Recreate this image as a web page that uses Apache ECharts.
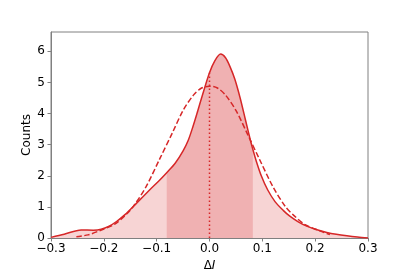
<!DOCTYPE html>
<html><head><meta charset="utf-8">
<script src="https://cdn.jsdelivr.net/npm/echarts@6/dist/echarts.min.js"></script>
<style>html,body{margin:0;padding:0;background:#fff}#c{width:409px;height:273px}</style>
</head><body><div id="c"></div>
<script>
// KDE (solid) curve: x values and density
var kdeX = [-0.3,-0.275,-0.243,-0.22,-0.205,-0.19,-0.176,-0.16,-0.138,-0.113,-0.095,-0.081,-0.065,-0.05,-0.04,-0.031,-0.022,-0.012,0.0,0.01,0.021,0.03,0.039,0.048,0.058,0.068,0.078,0.082,0.088,0.098,0.11,0.124,0.14,0.152,0.168,0.184,0.2,0.222,0.24,0.26,0.28,0.3];
var kdeY = [0.02,0.12,0.26,0.25,0.28,0.38,0.53,0.75,1.12,1.55,1.85,2.1,2.4,2.8,3.15,3.6,4.1,4.67,5.31,5.69,5.91,5.8,5.5,5.1,4.5,3.8,3.1,2.85,2.5,2.0,1.55,1.17,0.88,0.7,0.52,0.38,0.28,0.18,0.12,0.07,0.03,0.0];
// Normal fit (dashed)
var normX = [-0.252,-0.23,-0.207,-0.18,-0.16,-0.144,-0.12,-0.094,-0.07,-0.05,-0.03,-0.015,0.0,0.015,0.03,0.05,0.073,0.094,0.12,0.144,0.16,0.18,0.207,0.228];
var normY = [0.04,0.1,0.24,0.44,0.72,1.02,1.65,2.55,3.39,4.1,4.6,4.82,4.88,4.82,4.6,4.1,3.3,2.55,1.65,1.0,0.72,0.44,0.24,0.11];
// central shaded band limits
var bandLo = -0.081, bandHi = 0.082;
var medianX = 0.0, medianY = 5.31;
var yTicks = [0,1,2,3,4,5,6];

var kde = kdeX.map(function(x,i){return [x,kdeY[i]];});
var norm = normX.map(function(x,i){return [x,normY[i]];});
var band = [];
kdeX.forEach(function(x,i){ if(x>=bandLo && x<=bandHi) band.push([x,kdeY[i]]); });

var red = '#d62728';
var font = 'DejaVu Sans';
var chart = echarts.init(document.getElementById('c'), null, {renderer:'canvas'});
chart.setOption({
  animation:false,
  grid:{left:51,right:41,top:32,bottom:35,show:true,borderColor:'#808080',borderWidth:1,containLabel:false,outerBoundsMode:'none'},
  xAxis:{type:'value',min:-0.3,max:0.3,interval:0.1,
    name:'{a|Δ}{b|I}',nameLocation:'middle',nameGap:22,nameMoveOverlap:false,
    nameTextStyle:{rich:{a:{fontFamily:font,fontSize:12,color:'#000'},b:{fontFamily:font,fontSize:12,fontStyle:'italic',color:'#000'}}},
    axisLine:{show:true,onZero:false,lineStyle:{color:'#808080',width:1}},
    axisTick:{show:true,length:3.5,lineStyle:{color:'#808080'}},
    splitLine:{show:false},
    axisLabel:{fontFamily:font,fontSize:12,color:'#000',margin:5,
      formatter:function(v){var s=(Math.round(v*10)/10).toFixed(1); if(s==='-0.0')s='0.0'; return s.replace('-','\u2212');}}
  },
  yAxis:{type:'value',min:0,max:6.62,interval:1,
    name:'Counts',nameLocation:'middle',nameGap:18,nameRotate:90,nameMoveOverlap:false,
    nameTextStyle:{fontFamily:font,fontSize:12,color:'#000'},
    axisLine:{show:true,onZero:false,lineStyle:{color:'#808080',width:1}},
    axisTick:{show:true,length:3.5,lineStyle:{color:'#808080'}},
    splitLine:{show:false},
    axisLabel:{fontFamily:font,fontSize:12,color:'#000',margin:6,showMaxLabel:false,
      formatter:function(v){return yTicks.indexOf(v)>=0?String(v):'';}}
  },
  series:[
    {type:'line',data:kde,smooth:0.3,symbol:'none',lineStyle:{width:0},areaStyle:{color:'#f7d4d4',opacity:1},z:1},
    {type:'line',data:band,smooth:0.3,symbol:'none',lineStyle:{width:0},areaStyle:{color:'#f0b1b2',opacity:1},z:2},
    {type:'line',data:norm,smooth:0.3,symbol:'none',lineStyle:{color:red,width:1.5,type:[5.5,2.5]},z:3},
    {type:'line',data:kde,smooth:0.3,symbol:'none',lineStyle:{color:red,width:1.5},z:4},
    {type:'line',data:[[medianX,0],[medianX,medianY]],symbol:'none',lineStyle:{color:red,width:1.5,type:[1.5,2.5]},z:5}
  ]
});
</script></body></html>
